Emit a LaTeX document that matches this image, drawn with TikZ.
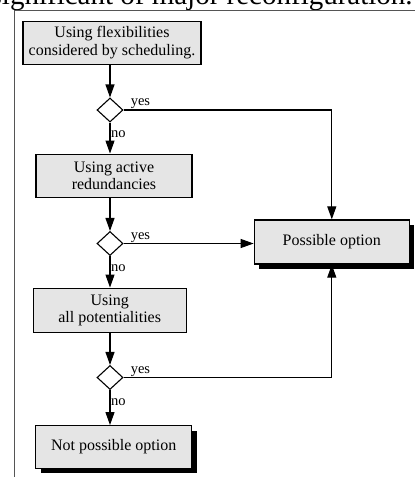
\documentclass[tikz,border=0pt]{standalone}
\usepackage{fontspec}
\setmainfont{Liberation Serif}
\usetikzlibrary{shapes.geometric,arrows.meta,shadows}
\definecolor{boxgray}{RGB}{229,229,229}
\definecolor{framegray}{RGB}{85,85,85}
\begin{document}
\begin{tikzpicture}[x=1pt,y=-1pt,
  stepbox/.style={draw=black, line width=1.3pt, fill=boxgray, align=center,
    font=\fontsize{16}{17.5}\selectfont, inner sep=0pt},
  shadowbox/.style={stepbox, drop shadow={shadow xshift=5pt, shadow yshift=-5pt,
    fill=black, opacity=1}},
  decision/.style={diamond, draw=black, line width=1.1pt, fill=white,
    minimum width=26pt, minimum height=24pt, inner sep=0pt},
  flow/.style={line width=1.1pt, -{Triangle[length=13pt,width=9pt]}},
  lbl/.style={font=\fontsize{14.5}{16}\selectfont, inner sep=0pt},
]
\useasboundingbox (0,0) rectangle (415,477);
\clip (0,0) rectangle (415,477);

% heading line, partly above the page
\node[font=\fontsize{29}{30}\selectfont, anchor=base, inner sep=0pt] (title)
  at (201.7,4) {significant of major reconfiguration.};

% frame
\coordinate (fbot) at (14.5,477);
\coordinate (fcorner) at (14.5,10.5);
\coordinate (fright) at (415,10.5);
\draw[framegray, line width=1.5pt] (fbot) -- (fcorner) -- (fright);

% steps
\node[stepbox, minimum width=178pt, minimum height=43pt] (b1) at (112,42.7)
  {Using flexibilities\\considered by scheduling.};
\node[decision] (d1) at (110,110) {};
\node[stepbox, minimum width=156pt, minimum height=43pt] (b2) at (114,175.7)
  {Using active\\redundancies};
\node[decision] (d2) at (110,243.5) {};
\node[stepbox, minimum width=153pt, minimum height=44pt] (b3) at (109.7,310.2)
  {Using\\all potentialities};
\node[decision] (d3) at (110,377.5) {};
\node[shadowbox, minimum width=156pt, minimum height=42.6pt] (b4) at (113.7,447)
  {Not possible option};
\node[shadowbox, minimum width=155pt, minimum height=44pt] (po) at (331.8,242)
  {Possible option};

% vertical flow
\draw[flow] (b1.south -| d1.north) -- (d1.north);
\draw[flow] (d1.south) -- (d1.south |- b2.north);
\draw[flow] (b2.south -| d2.north) -- (d2.north);
\draw[flow] (d2.south) -- (d2.south |- b3.north);
\draw[flow] (b3.south -| d3.north) -- (d3.north);
\draw[flow] (d3.south) -- (d3.south |- b4.north);

% yes branches
\draw[flow] (d1.east) -| (po.north);
\draw[flow] (d2.east) -- (d2.east -| po.west);
\draw[flow] (d3.east) -| (po.south);

% branch labels
\node[lbl, anchor=base west] (yes1) at ([xshift=7pt,yshift=4.5pt]d1.east) {yes};
\node[lbl, anchor=base west] (yes2) at ([xshift=7pt,yshift=4.5pt]d2.east) {yes};
\node[lbl, anchor=base west] (yes3) at ([xshift=7pt,yshift=4.5pt]d3.east) {yes};
\node[lbl, anchor=base west] (no1) at ([xshift=1pt,yshift=-15pt]d1.south) {no};
\node[lbl, anchor=base west] (no2) at ([xshift=1pt,yshift=-15pt]d2.south) {no};
\node[lbl, anchor=base west] (no3) at ([xshift=1pt,yshift=-15pt]d3.south) {no};
\end{tikzpicture}
\end{document}
